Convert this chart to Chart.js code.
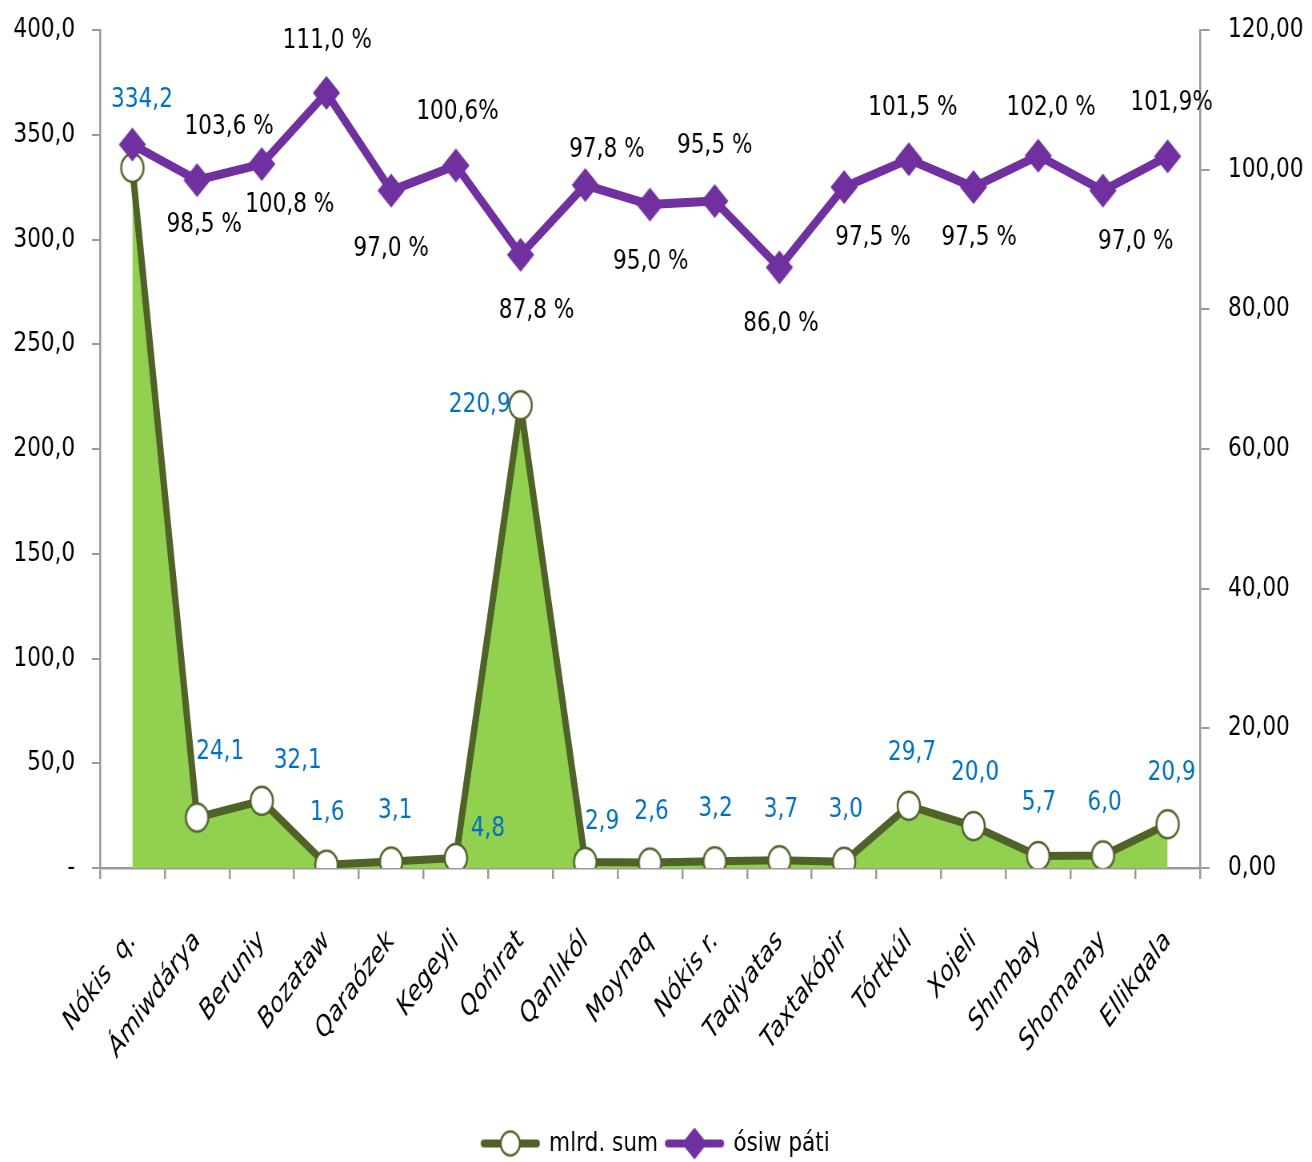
<!DOCTYPE html>
<html>
<head>
<meta charset="utf-8">
<script src="https://cdn.jsdelivr.net/npm/chart.js@4/dist/chart.umd.min.js"></script>
<style>
  html, body { margin: 0; padding: 0; background: #fff; overflow: hidden; }
  #chart { display: block; }
</style>
</head>
<body>
<!-- the reference is a horizontally squeezed picture, so the canvas is drawn wider and squeezed -->
<canvas id="chart" width="1640" height="1162" style="width:1312px;height:1162px"></canvas>
<script>
// Data
const districts = ['Nókis  q.', 'Ámiwdárya', 'Beruniy', 'Bozataw', 'Qaraózek', 'Kegeyli', 'Qońırat',
    'Qanlıkól', 'Moynaq', 'Nókis r.', 'Taqiyatas', 'Taxtakópir', 'Tórtkúl', 'Xojeli',
    'Shımbay', 'Shomanay', 'Ellikqala'];
const volume = [334.2, 24.1, 32.1, 1.6, 3.1, 4.8, 220.9, 2.9, 2.6, 3.2, 3.7, 3.0, 29.7, 20.0, 5.7, 6.0, 20.9];
const growth = [103.6, 98.5, 100.8, 111.0, 97.0, 100.6, 87.8, 97.8, 95.0, 95.5, 86.0, 97.5, 101.5, 97.5, 102.0, 97.0, 101.9];
const growthLabels = ['103,6 %', '98,5 %', '100,8 %', '111,0 %', '97,0 %', '100,6%', '87,8 %', '97,8 %',
    '95,0 %', '95,5 %', '86,0 %', '97,5 %', '101,5 %', '97,5 %', '102,0 %', '97,0 %', '101,9%'];
const seriesNames = ['mlrd. sum', 'ósiw páti'];

const FONT = "'DejaVu Sans', sans-serif";
const FSIZE = 27;
const OLIVE = '#4f6228';
const PURPLE = '#7030a0';
const GREEN = '#92d050';
const BLUE = '#0070c0';
const AXIS = '#9a9a9a';

// where each data label sits relative to its point (dx, dy)
const volumeLabelShift = [[12, -68], [29, -66], [45, -40], [1, -52], [5, -51], [40, -29], [-51, 0], [21, -40],
    [2, -51], [1, -52], [2, -50], [2, -52], [4, -53], [2, -53], [1, -53], [2, -52], [5, -51]];
const growthLabelShift = [[121, -18], [9, 45], [35, 41], [1, -52], [0, 58], [2, -53], [20, 56], [27, -35],
    [1, 57], [0, -55], [2, 57], [36, 51], [5, -51], [7, 51], [16, -48], [41, 51], [5, -53]];

function makeCanvas(w, h, draw) {
    const c = document.createElement('canvas');
    c.width = w; c.height = h;
    draw(c.getContext('2d'), w, h);
    return c;
}

function circle(ctx, cx, cy, r) {
    ctx.beginPath();
    ctx.arc(cx, cy, r, 0, Math.PI * 2);
    ctx.fillStyle = '#fff';
    ctx.fill();
    ctx.lineWidth = 2.5;
    ctx.strokeStyle = OLIVE;
    ctx.stroke();
}

function diamond(ctx, cx, cy, r) {
    ctx.beginPath();
    ctx.moveTo(cx, cy - r);
    ctx.lineTo(cx + r, cy);
    ctx.lineTo(cx, cy + r);
    ctx.lineTo(cx - r, cy);
    ctx.closePath();
    ctx.fillStyle = PURPLE;
    ctx.fill();
}

const circleMark = makeCanvas(34, 34, (ctx) => circle(ctx, 17, 17, 14));
const diamondMark = makeCanvas(36, 36, (ctx) => diamond(ctx, 18, 18, 17));

function legendIcon(color, drawMark) {
    return makeCanvas(76, 34, (ctx, w, h) => {
        ctx.strokeStyle = color;
        ctx.lineWidth = 8;
        ctx.lineCap = 'round';
        ctx.beginPath();
        ctx.moveTo(5, h / 2);
        ctx.lineTo(w - 5, h / 2);
        ctx.stroke();
        drawMark(ctx, w / 2, h / 2);
    });
}
const legendIcons = [
    legendIcon(OLIVE, (ctx, x, y) => circle(ctx, x, y, 12)),
    legendIcon(PURPLE, (ctx, x, y) => diamond(ctx, x, y, 16))
];

const fmt = (v, d) => v.toFixed(d).replace('.', ',');

// data labels drawn next to the points
const pointLabels = {
    id: 'pointLabels',
    afterDatasetsDraw(chart) {
        const ctx = chart.ctx;
        ctx.save();
        ctx.font = FSIZE + 'px ' + FONT;
        ctx.textAlign = 'center';
        ctx.textBaseline = 'middle';

        chart.getDatasetMeta(0).data.forEach((pt, i) => {
            ctx.fillStyle = BLUE;
            const [dx, dy] = volumeLabelShift[i];
            ctx.fillText(fmt(volume[i], 1), pt.x + dx, pt.y + dy);
        });
        chart.getDatasetMeta(1).data.forEach((pt, i) => {
            ctx.fillStyle = '#000';
            const [dx, dy] = growthLabelShift[i];
            ctx.fillText(growthLabels[i], pt.x + dx, pt.y + dy);
        });
        ctx.restore();
    }
};

const axisGrid = { drawOnChartArea: false, drawTicks: true, tickLength: 10, color: AXIS, lineWidth: 2 };

// fixed side widths and top so the plot area sits where it does in the picture
function sideAxis(width) {
    return scale => {
        scale.width = width;
        scale.paddingTop = 30;
        scale.paddingBottom = 0;
    };
}

new Chart(document.getElementById('chart'), {
    type: 'line',
    data: {
        labels: districts,
        datasets: [
            {
                label: seriesNames[0],
                data: volume,
                yAxisID: 'y',
                borderColor: OLIVE,
                borderWidth: 8,
                borderJoinStyle: 'round',
                backgroundColor: GREEN,
                fill: 'origin',
                pointStyle: circleMark,
                order: 1
            },
            {
                label: seriesNames[1],
                data: growth,
                yAxisID: 'y1',
                borderColor: PURPLE,
                borderWidth: 9,
                borderJoinStyle: 'round',
                backgroundColor: PURPLE,
                fill: false,
                pointStyle: diamondMark,
                order: 0
            }
        ]
    },
    options: {
        responsive: false,
        animation: false,
        layout: { padding: { top: 0, left: 0, right: 0, bottom: -5 } },
        plugins: {
            tooltip: { enabled: false },
            legend: {
                position: 'bottom',
                labels: {
                    usePointStyle: true,
                    pointStyleWidth: 70,
                    padding: 2,
                    color: '#000',
                    font: { family: FONT, size: FSIZE },
                    sort: (a, b) => a.datasetIndex - b.datasetIndex,
                    generateLabels(chart) {
                        const items = Chart.defaults.plugins.legend.labels.generateLabels(chart);
                        items.forEach(it => {
                            it.pointStyle = legendIcons[it.datasetIndex];
                            if (it.datasetIndex === 0) it.text += ' ';
                        });
                        return items;
                    }
                }
            }
        },
        scales: {
            x: {
                offset: true,
                grid: { ...axisGrid, offset: true, tickLength: 11, lineWidth: 2.5 },
                border: { color: AXIS, width: 2.5 },
                ticks: {
                    color: '#000',
                    font: { family: FONT, size: 28, style: 'italic' },
                    minRotation: 48,
                    maxRotation: 48,
                    autoSkip: false,
                    padding: 46
                },
                afterFit(scale) { scale.height = 260; }
            },
            y: {
                position: 'left',
                min: 0,
                max: 400,
                grid: axisGrid,
                border: { color: AXIS, width: 2.5 },
                ticks: {
                    stepSize: 50,
                    color: '#000',
                    padding: 21,
                    font: { family: FONT, size: FSIZE },
                    callback: v => v === 0 ? '-' : fmt(v, 1)
                },
                afterFit: sideAxis(125)
            },
            y1: {
                position: 'right',
                min: 0,
                max: 120,
                grid: { ...axisGrid, tickLength: 12 },
                border: { color: AXIS, width: 2.5 },
                ticks: {
                    stepSize: 20,
                    color: '#000',
                    padding: 23,
                    font: { family: FONT, size: FSIZE },
                    callback: v => fmt(v, 2)
                },
                afterFit: sideAxis(140)
            }
        }
    },
    plugins: [pointLabels]
});
</script>
</body>
</html>
